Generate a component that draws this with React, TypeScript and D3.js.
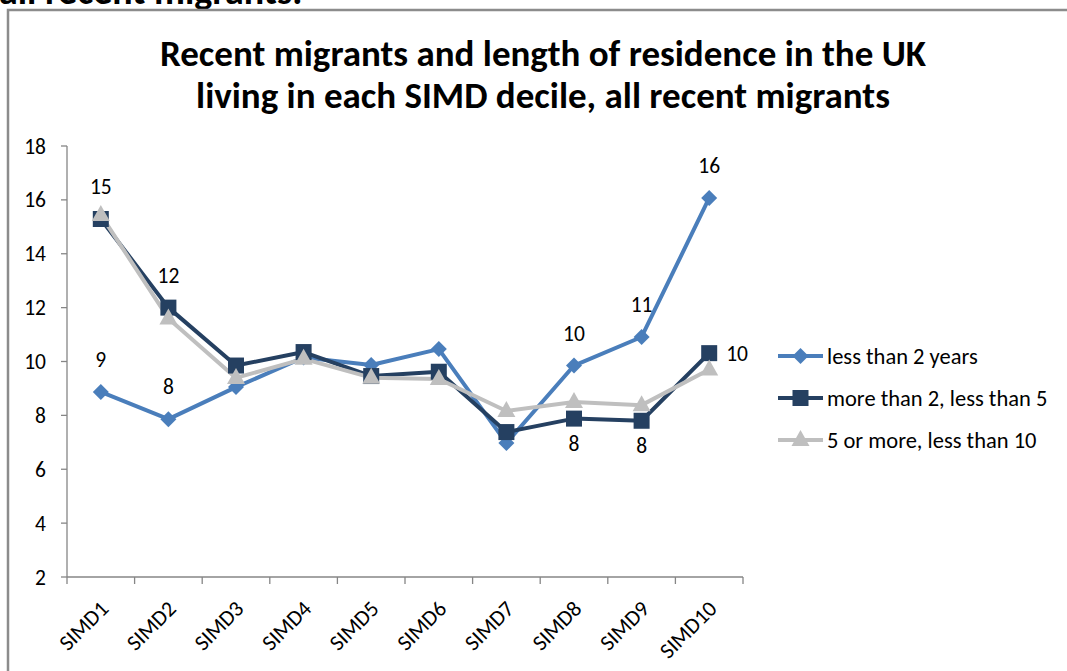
import React from "react";
import * as d3 from "d3";

const categories = ["SIMD1","SIMD2","SIMD3","SIMD4","SIMD5","SIMD6","SIMD7","SIMD8","SIMD9","SIMD10"];
const lessThan2 = [8.87, 7.86, 9.05, 10.15, 9.87, 10.46, 6.97, 9.85, 10.91, 16.07];
const twoToFive = [15.29, 12.0, 9.85, 10.35, 9.46, 9.62, 7.38, 7.88, 7.8, 10.31];
const fiveToTen = [15.44, 11.6, 9.39, 10.1, 9.4, 9.35, 8.16, 8.5, 8.38, 9.7];
const seriesNames = ["less than 2 years", "more than 2, less than 5", "5 or more, less than 10"];
const yTicks = [2, 4, 6, 8, 10, 12, 14, 16, 18];
// data labels: [series index, category index, text, position]
const dataLabels: [number, number, string, string][] = [
  [0, 0, "9", "above"], [0, 1, "8", "above"], [1, 0, "15", "above"], [1, 1, "12", "above"],
  [0, 7, "10", "above"], [0, 8, "11", "above"], [0, 9, "16", "above"],
  [1, 7, "8", "below"], [1, 8, "8", "below"], [1, 9, "10", "right"],
];

const colors = ["#4a7ebb", "#254061", "#bfbfbf"];
const FONT = "Carlito, Calibri, 'Open Sans', 'Liberation Sans', sans-serif";

export default function App() {
  const left = 67, right = 743, top = 146, bottom = 577;
  const x = d3.scaleBand().domain(categories).range([left, right]);
  const y = d3.scaleLinear().domain([2, 18]).range([bottom, top]);
  const series = [lessThan2, twoToFive, fiveToTen];
  const cx = (i: number) => (x(categories[i]) as number) + x.bandwidth() / 2;
  const line = d3.line<number>().x((_, i) => cx(i)).y((d) => y(d));

  const marker = (s: number, px: number, py: number, key: string) => {
    if (s === 0) {
      const r = 8;
      return <path key={key} d={`M${px},${py - r}L${px + r},${py}L${px},${py + r}L${px - r},${py}Z`} fill={colors[0]} />;
    }
    if (s === 1) {
      return <rect key={key} x={px - 8} y={py - 8} width={16} height={16} fill={colors[1]} />;
    }
    return <path key={key} d={`M${px},${py - 10}L${px + 9},${py + 6}L${px - 9},${py + 6}Z`} fill={colors[2]} />;
  };

  const legendY = [356, 398, 440];

  return (
    <svg width={1067} height={671} style={{ position: "absolute", left: 0, top: 0, background: "#fff" }} fontFamily={FONT}>
      <rect x={0} y={0} width={1067} height={671} fill="#fff" />
      <text x={-1} y={4} fontSize={38} fontWeight="bold" fill="#000">all recent migrants.</text>
      <path d="M8,1000V10H1100" fill="none" stroke="#8c8c8c" strokeWidth={2.5} />
      <text x={543} y={66} textAnchor="middle" fontSize={37} fontWeight="bold" fill="#000">Recent migrants and length of residence in the UK</text>
      <text x={543} y={108} textAnchor="middle" fontSize={37} fontWeight="bold" fill="#000">living in each SIMD decile, all recent migrants</text>

      {/* y axis */}
      <line x1={left} x2={left} y1={top} y2={bottom} stroke="#868686" strokeWidth={1.3} />
      {yTicks.map((t) => (
        <g key={t}>
          <line x1={left - 6} x2={left} y1={y(t)} y2={y(t)} stroke="#868686" strokeWidth={1.3} />
          <text x={46} y={y(t)} dy="0.35em" textAnchor="end" fontSize={21.5} fill="#000">{t}</text>
        </g>
      ))}
      {/* x axis */}
      <line x1={left} x2={right} y1={bottom} y2={bottom} stroke="#868686" strokeWidth={1.3} />
      {d3.range(categories.length + 1).map((i) => {
        const xx = left + i * x.step();
        return <line key={i} x1={xx} x2={xx} y1={bottom} y2={bottom + 7} stroke="#868686" strokeWidth={1.3} />;
      })}
      {categories.map((c, i) => (
        <text key={c} transform={`translate(${cx(i) + 9},${bottom + 33}) rotate(-45)`} textAnchor="end" fontSize={22} fill="#000">{c}</text>
      ))}

      {/* lines */}
      {series.map((s, si) => (
        <path key={si} d={line(s) as string} fill="none" stroke={colors[si]} strokeWidth={4} strokeLinejoin="round" />
      ))}
      {series.map((s, si) => s.map((v, i) => marker(si, cx(i), y(v), `m${si}-${i}`)))}

      {/* data labels */}
      {dataLabels.map(([si, ci, t, pos], k) => {
        const px = cx(ci), py = y(series[si][ci]);
        if (pos === "above") return <text key={k} x={px} y={py - 25} textAnchor="middle" fontSize={21.5} fill="#000">{t}</text>;
        if (pos === "below") return <text key={k} x={px} y={py + 32} textAnchor="middle" fontSize={21.5} fill="#000">{t}</text>;
        return <text key={k} x={px + 17} y={py} dy="0.35em" textAnchor="start" fontSize={21.5} fill="#000">{t}</text>;
      })}

      {/* legend */}
      {seriesNames.map((n, i) => (
        <g key={n}>
          <line x1={778} x2={823} y1={legendY[i]} y2={legendY[i]} stroke={colors[i]} strokeWidth={4} />
          {marker(i, 800.5, legendY[i], `lg${i}`)}
          <text x={827} y={legendY[i]} dy="0.35em" fontSize={22.5} fill="#000">{n}</text>
        </g>
      ))}
    </svg>
  );
}
